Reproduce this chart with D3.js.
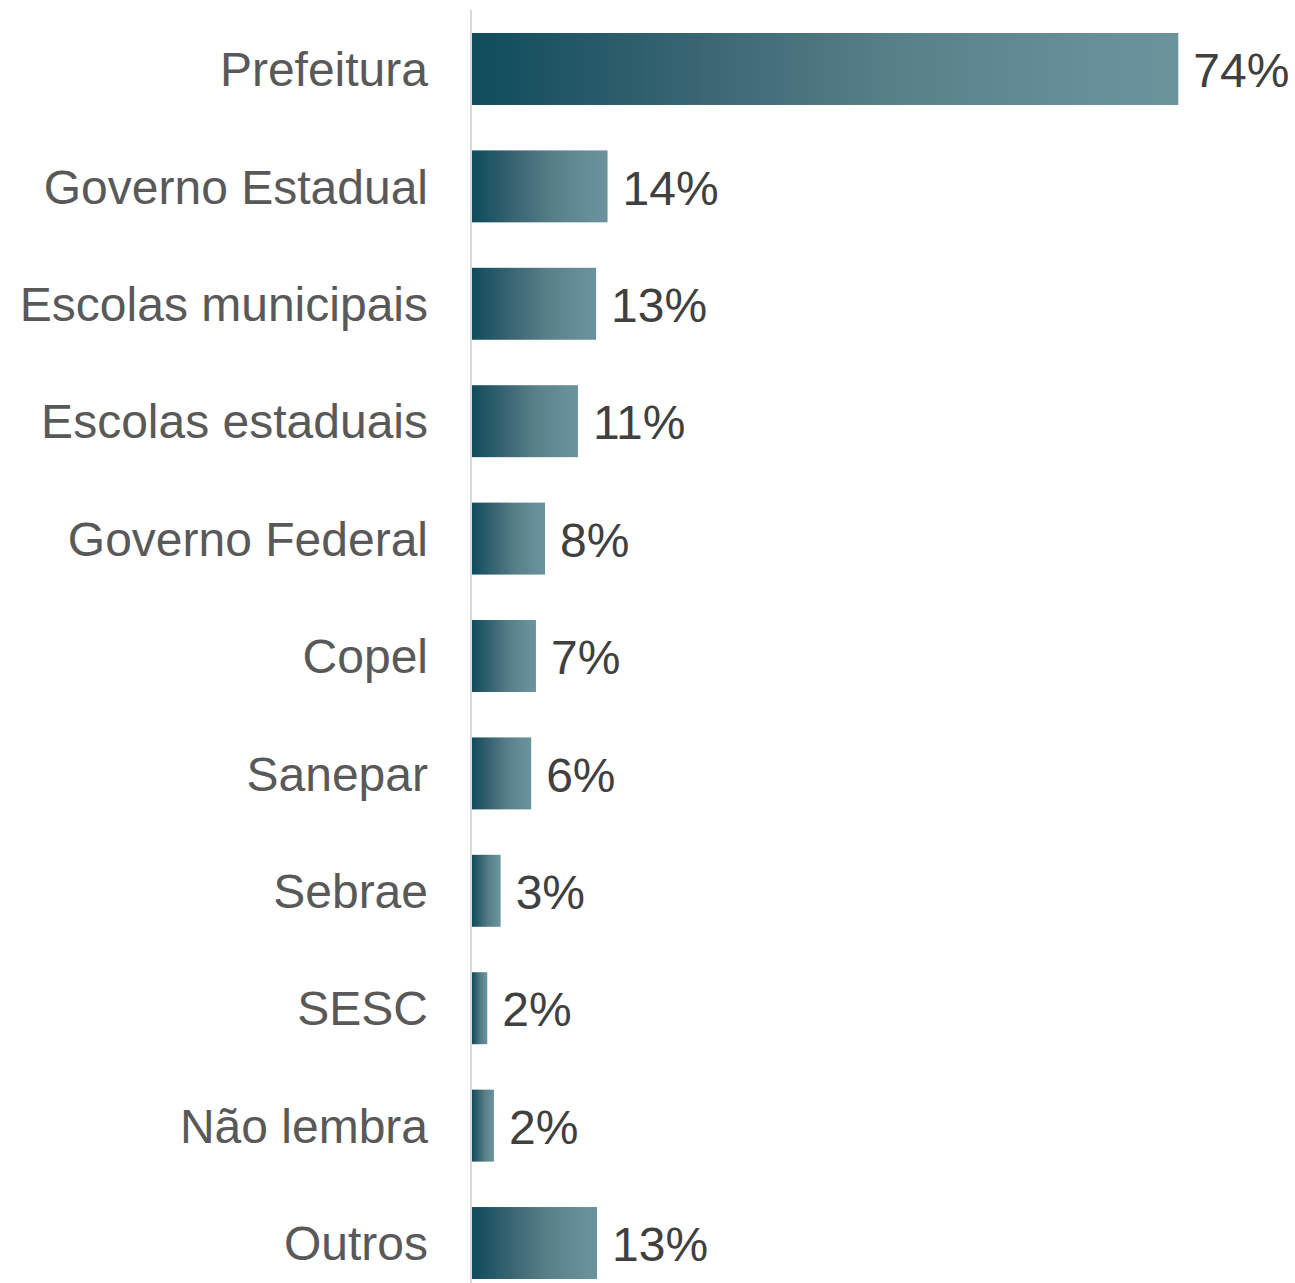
<!DOCTYPE html>
<html>
<head>
<meta charset="utf-8">
<script src="https://cdn.jsdelivr.net/npm/d3@7"></script>
<style>
  body { margin: 0; background: #fff; }
  svg { display: block; }
</style>
</head>
<body>
<script>
'use strict';

// categories, top to bottom
const categories = ['Prefeitura', 'Governo Estadual', 'Escolas municipais', 'Escolas estaduais',
  'Governo Federal', 'Copel', 'Sanepar', 'Sebrae', 'SESC', 'Não lembra', 'Outros'];
// bar lengths (%)
const values = [74, 14.2, 13.0, 11.1, 7.65, 6.7, 6.2, 3.0, 1.6, 2.3, 13.1];
// printed labels
const valueLabels = ['74%', '14%', '13%', '11%', '8%', '7%', '6%', '3%', '2%', '2%', '13%'];

const width = 1295, height = 1283;
const axisX = 472;

const svg = d3.select('body').append('svg')
  .attr('width', width)
  .attr('height', height);

// gradient used by every bar (dark on the left, lighter to the right)
const grad = svg.append('defs').append('linearGradient')
  .attr('id', 'barGrad')
  .attr('x1', '0%').attr('x2', '100%')
  .attr('y1', '0%').attr('y2', '0%');
grad.append('stop').attr('offset', '0%').attr('stop-color', '#0f4c5c');
grad.append('stop').attr('offset', '33%').attr('stop-color', '#3b6673');
grad.append('stop').attr('offset', '60%').attr('stop-color', '#588089');
grad.append('stop').attr('offset', '88%').attr('stop-color', '#678f99');
grad.append('stop').attr('offset', '100%').attr('stop-color', '#6a939c');

const rows = categories.map((c, i) => ({ name: c, value: values[i], label: valueLabels[i] }));

const x = d3.scaleLinear()
  .domain([0, 74])
  .range([axisX, 1178.3]);

const y = d3.scaleBand()
  .domain(categories)
  .range([28.3, 1283.7])
  .paddingInner(0.387)
  .paddingOuter(0.04);

// vertical axis line
svg.append('line')
  .attr('x1', axisX - 1).attr('x2', axisX - 1)
  .attr('y1', 10).attr('y2', height)
  .attr('stroke', '#d9d9d9')
  .attr('stroke-width', 2);

// bars
svg.selectAll('.bar')
  .data(rows)
  .enter()
  .append('rect')
    .attr('class', 'bar')
    .attr('x', x(0))
    .attr('y', d => y(d.name))
    .attr('width', d => x(d.value) - x(0))
    .attr('height', y.bandwidth())
    .attr('fill', 'url(#barGrad)');

// category labels
svg.selectAll('.cat')
  .data(rows)
  .enter()
  .append('text')
    .attr('class', 'cat')
    .attr('x', 428)
    .attr('y', d => y(d.name) + y.bandwidth() / 2)
    .attr('dy', '0.36em')
    .attr('text-anchor', 'end')
    .style('font-family', '"Liberation Sans", Arial, sans-serif')
    .style('font-size', '48px')
    .attr('fill', '#595959')
    .text(d => d.name);

// value labels
svg.selectAll('.val')
  .data(rows)
  .enter()
  .append('text')
    .attr('class', 'val')
    .attr('x', d => x(d.value) + 15)
    .attr('y', d => y(d.name) + y.bandwidth() / 2)
    .attr('dy', '0.38em')
    .style('font-family', '"Liberation Sans", Arial, sans-serif')
    .style('font-size', '48px')
    .attr('fill', '#404040')
    .text(d => d.label);
</script>
</body>
</html>
